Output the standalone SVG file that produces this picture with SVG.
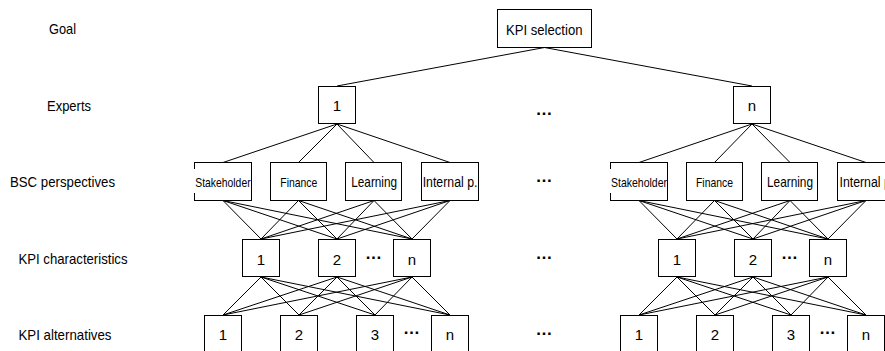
<svg xmlns="http://www.w3.org/2000/svg" width="885" height="351" viewBox="0 0 885 351">
<style>
.bx{fill:#fff;stroke:#000;stroke-width:1}
.t{font-family:"Liberation Sans",Arial,sans-serif;fill:#000}
.c{text-anchor:middle;font-size:15px}
.lb{font-size:15px}
.el{font-family:"Liberation Sans",Arial,sans-serif;font-size:17px;font-weight:bold;text-anchor:middle;fill:#000}
#connectors line{stroke:#000;stroke-width:1}
</style>
<rect width="885" height="351" fill="#fff"/>
<g id="labels">
<text class="t lb" x="49" y="33.5" textLength="27" lengthAdjust="spacingAndGlyphs">Goal</text>
<text class="t lb" x="47" y="111" textLength="44" lengthAdjust="spacingAndGlyphs">Experts</text>
<text class="t lb" x="10" y="187" textLength="105" lengthAdjust="spacingAndGlyphs">BSC perspectives</text>
<text class="t lb" x="18.5" y="263.5" textLength="109" lengthAdjust="spacingAndGlyphs">KPI characteristics</text>
<text class="t lb" x="18.5" y="340" textLength="93" lengthAdjust="spacingAndGlyphs">KPI alternatives</text>
</g>
<g id="connectors">
<line x1="544.5" y1="47.5" x2="337" y2="86"/>
<line x1="544.5" y1="47.5" x2="752" y2="86"/>
<line x1="337" y1="124" x2="223" y2="162.5"/>
<line x1="337" y1="124" x2="298.5" y2="162.5"/>
<line x1="337" y1="124" x2="374" y2="162.5"/>
<line x1="337" y1="124" x2="450" y2="162.5"/>
<line x1="752" y1="124" x2="639" y2="162.5"/>
<line x1="752" y1="124" x2="714.5" y2="162.5"/>
<line x1="752" y1="124" x2="790" y2="162.5"/>
<line x1="752" y1="124" x2="866" y2="162.5"/>
<line x1="223" y1="200.5" x2="261" y2="239"/><line x1="223" y1="200.5" x2="337" y2="239"/><line x1="223" y1="200.5" x2="412" y2="239"/>
<line x1="298.5" y1="200.5" x2="261" y2="239"/><line x1="298.5" y1="200.5" x2="337" y2="239"/><line x1="298.5" y1="200.5" x2="412" y2="239"/>
<line x1="374" y1="200.5" x2="261" y2="239"/><line x1="374" y1="200.5" x2="337" y2="239"/><line x1="374" y1="200.5" x2="412" y2="239"/>
<line x1="450" y1="200.5" x2="261" y2="239"/><line x1="450" y1="200.5" x2="337" y2="239"/><line x1="450" y1="200.5" x2="412" y2="239"/>
<line x1="639" y1="200.5" x2="677" y2="239"/><line x1="639" y1="200.5" x2="753" y2="239"/><line x1="639" y1="200.5" x2="828" y2="239"/>
<line x1="714.5" y1="200.5" x2="677" y2="239"/><line x1="714.5" y1="200.5" x2="753" y2="239"/><line x1="714.5" y1="200.5" x2="828" y2="239"/>
<line x1="790" y1="200.5" x2="677" y2="239"/><line x1="790" y1="200.5" x2="753" y2="239"/><line x1="790" y1="200.5" x2="828" y2="239"/>
<line x1="866" y1="200.5" x2="677" y2="239"/><line x1="866" y1="200.5" x2="753" y2="239"/><line x1="866" y1="200.5" x2="828" y2="239"/>
<line x1="261" y1="277" x2="223" y2="315"/><line x1="261" y1="277" x2="299" y2="315"/><line x1="261" y1="277" x2="375" y2="315"/><line x1="261" y1="277" x2="450" y2="315"/>
<line x1="337" y1="277" x2="223" y2="315"/><line x1="337" y1="277" x2="299" y2="315"/><line x1="337" y1="277" x2="375" y2="315"/><line x1="337" y1="277" x2="450" y2="315"/>
<line x1="412" y1="277" x2="223" y2="315"/><line x1="412" y1="277" x2="299" y2="315"/><line x1="412" y1="277" x2="375" y2="315"/><line x1="412" y1="277" x2="450" y2="315"/>
<line x1="677" y1="277" x2="639" y2="315"/><line x1="677" y1="277" x2="715" y2="315"/><line x1="677" y1="277" x2="791" y2="315"/><line x1="677" y1="277" x2="866" y2="315"/>
<line x1="753" y1="277" x2="639" y2="315"/><line x1="753" y1="277" x2="715" y2="315"/><line x1="753" y1="277" x2="791" y2="315"/><line x1="753" y1="277" x2="866" y2="315"/>
<line x1="828" y1="277" x2="639" y2="315"/><line x1="828" y1="277" x2="715" y2="315"/><line x1="828" y1="277" x2="791" y2="315"/><line x1="828" y1="277" x2="866" y2="315"/>
</g>
<g id="goal"><rect class="bx" x="497.5" y="9.5" width="94" height="38"/><text class="t" x="506" y="34.5" font-size="15" textLength="76.5" lengthAdjust="spacingAndGlyphs">KPI selection</text></g>
<g id="expert-1"><rect class="bx" x="318.5" y="86.5" width="37" height="37"/><text class="t c" x="337" y="110.5">1</text></g>
<g id="expert-n"><rect class="bx" x="733.5" y="86.5" width="37" height="37"/><text class="t c" x="752" y="110.5">n</text></g>

<g id="bsc1-stakeholder"><rect class="bx" x="194.5" y="162.5" width="57" height="38"/><rect x="192" y="169" width="5" height="24" fill="#fff"/><text class="t" x="195.3" y="186.5" font-size="13" textLength="55.3" lengthAdjust="spacingAndGlyphs">Stakeholder</text></g>
<g id="bsc1-finance"><rect class="bx" x="270.5" y="162.5" width="56" height="38"/><text class="t" x="280.3" y="186.5" font-size="13" textLength="37" lengthAdjust="spacingAndGlyphs">Finance</text></g>
<g id="bsc1-learning"><rect class="bx" x="345.5" y="162.5" width="56" height="38"/><text class="t" x="351.3" y="187" font-size="14.5" textLength="45.7" lengthAdjust="spacingAndGlyphs">Learning</text></g>
<g id="bsc1-internal"><rect class="bx" x="421.5" y="162.5" width="57" height="38"/><text class="t" x="422.7" y="187" font-size="14" textLength="54.7" lengthAdjust="spacingAndGlyphs">Internal p.</text></g>

<g id="bscn-stakeholder"><rect class="bx" x="610.5" y="162.5" width="57" height="38"/><rect x="608" y="169" width="5" height="24" fill="#fff"/><text class="t" x="611" y="186.5" font-size="13" textLength="56" lengthAdjust="spacingAndGlyphs">Stakeholder</text></g>
<g id="bscn-finance"><rect class="bx" x="686.5" y="162.5" width="56" height="38"/><text class="t" x="696" y="186.5" font-size="13" textLength="37" lengthAdjust="spacingAndGlyphs">Finance</text></g>
<g id="bscn-learning"><rect class="bx" x="761.5" y="162.5" width="56" height="38"/><text class="t" x="767" y="187" font-size="14.5" textLength="46" lengthAdjust="spacingAndGlyphs">Learning</text></g>
<g id="bscn-internal"><rect class="bx" x="837.5" y="162.5" width="57" height="38"/><text class="t" x="839.5" y="187" font-size="14" textLength="54.7" lengthAdjust="spacingAndGlyphs">Internal p.</text></g>

<g id="char1-1"><rect class="bx" x="242.5" y="239.5" width="37" height="37"/><text class="t c" x="261" y="265">1</text></g>
<g id="char1-2"><rect class="bx" x="318.5" y="239.5" width="37" height="37"/><text class="t c" x="337" y="265">2</text></g>
<g id="char1-n"><rect class="bx" x="393.5" y="239.5" width="37" height="37"/><text class="t c" x="412" y="265">n</text></g>
<g id="charn-1"><rect class="bx" x="658.5" y="239.5" width="37" height="37"/><text class="t c" x="677" y="265">1</text></g>
<g id="charn-2"><rect class="bx" x="734.5" y="239.5" width="37" height="37"/><text class="t c" x="753" y="265">2</text></g>
<g id="charn-n"><rect class="bx" x="809.5" y="239.5" width="37" height="37"/><text class="t c" x="828" y="265">n</text></g>

<g id="alt1-1"><rect class="bx" x="204.5" y="315.5" width="37" height="40"/><text class="t c" x="223" y="340">1</text></g>
<g id="alt1-2"><rect class="bx" x="280.5" y="315.5" width="37" height="40"/><text class="t c" x="299" y="340">2</text></g>
<g id="alt1-3"><rect class="bx" x="356.5" y="315.5" width="37" height="40"/><text class="t c" x="375" y="340">3</text></g>
<g id="alt1-n"><rect class="bx" x="431.5" y="315.5" width="37" height="40"/><text class="t c" x="450" y="340">n</text></g>
<g id="altn-1"><rect class="bx" x="620.5" y="315.5" width="37" height="40"/><text class="t c" x="639" y="340">1</text></g>
<g id="altn-2"><rect class="bx" x="696.5" y="315.5" width="37" height="40"/><text class="t c" x="715" y="340">2</text></g>
<g id="altn-3"><rect class="bx" x="772.5" y="315.5" width="37" height="40"/><text class="t c" x="791" y="340">3</text></g>
<g id="altn-n"><rect class="bx" x="847.5" y="315.5" width="37" height="40"/><text class="t c" x="866" y="340">n</text></g>

<g id="ellipses">
<text class="el" x="544" y="115">…</text>
<text class="el" x="544" y="182">…</text>
<text class="el" x="544" y="259">…</text>
<text class="el" x="544" y="335">…</text>
<text class="el" x="373.5" y="259">…</text>
<text class="el" x="411.5" y="333.5">…</text>
<text class="el" x="789.5" y="259">…</text>
<text class="el" x="827.5" y="333.5">…</text>
</g>
</svg>
